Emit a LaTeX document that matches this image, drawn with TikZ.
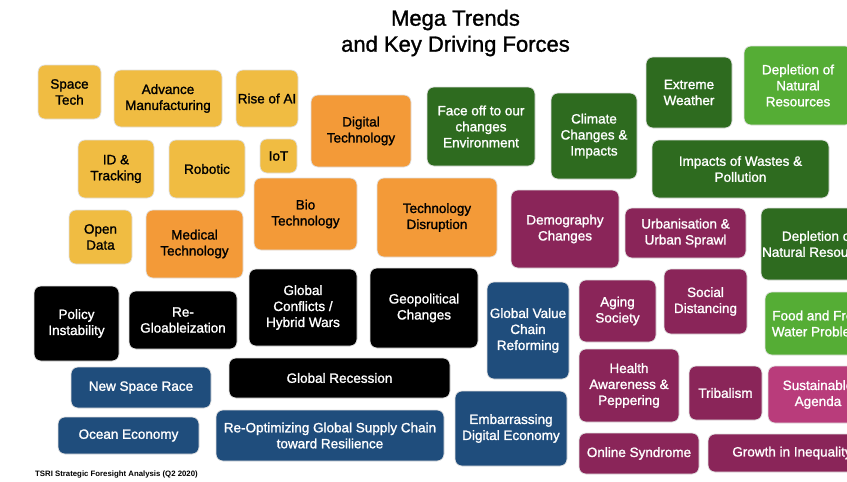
\documentclass[tikz,border=0pt]{standalone}
\usepackage{fontspec}
\setmainfont{Liberation Sans}
\newfontfamily\bx[FakeBold=1.3]{Liberation Sans}
\definecolor{yel}{HTML}{F0BC42}
\definecolor{ora}{HTML}{F39A38}
\definecolor{dgr}{HTML}{2E6B1F}
\definecolor{lgr}{HTML}{55AD35}
\definecolor{pur}{HTML}{8A2559}
\definecolor{pnk}{HTML}{B93C7B}
\definecolor{blu}{HTML}{1F4D7C}
\tikzset{
  tb/.style={rounded corners=7pt, inner sep=0pt, align=center, draw=black!12, line width=0.7pt, font=\bx\fontsize{13.5}{16}\selectfont},
  cy/.style={tb, fill=yel, text=black},
  co/.style={tb, fill=ora, text=black},
  cd/.style={tb, fill=dgr, text=white},
  cl/.style={tb, fill=lgr, text=white},
  cp/.style={tb, fill=pur, text=white},
  ck/.style={tb, fill=pnk, text=white},
  cb/.style={tb, fill=blu, text=white},
  cn/.style={tb, fill=black, text=white},
  sz/.style n args={2}{minimum width=#1pt, minimum height=#2pt}
}
\begin{document}
\begin{tikzpicture}[x=1pt,y=-1pt]
\useasboundingbox (0,0) rectangle (847,482);
\clip (0,0) rectangle (847,482);
\node[font=\bx\fontsize{22}{26}\selectfont, align=center] (title) at (455.5,33) {Mega Trends\\and Key Driving Forces};
% technology
\node[cy, sz={63}{54}] (st) at (69.5,92) {Space\\Tech};
\node[cy, sz={108}{57}] (am) at (168,98.5) {Advance\\Manufacturing};
\node[cy, sz={62}{57}] (ai) at (267,98.5) {Rise of AI};
\node[co, sz={100}{72}] (dt) at (361,131) {Digital\\Technology};
\node[cy, sz={76}{58}] (id) at (116,169) {ID \&\\Tracking};
\node[cy, sz={76}{58}] (rb) at (207,169) {Robotic};
\node[cy, sz={37}{34}] (iot) at (278.5,156) {IoT};
\node[co, sz={103}{72}] (bt) at (305.5,214) {Bio\\Technology};
\node[co, sz={120}{79}] (td) at (437,217.5) {Technology\\Disruption};
\node[cy, sz={63}{54}] (od) at (100.5,237) {Open\\Data};
\node[co, sz={97}{68}] (mt) at (194.5,244) {Medical\\Technology};
% environment
\node[cd, sz={108}{79}] (fo) at (481,126.5) {Face off to our\\changes\\Environment};
\node[cd, sz={86}{86}] (cc) at (594,136) {Climate\\Changes \&\\Impacts};
\node[cd, sz={86}{71}] (ew) at (689,92.5) {Extreme\\Weather};
\node[cl, sz={108}{79}] (dn) at (798,85.5) {Depletion of\\Natural\\Resources};
\node[cd, sz={177}{58}] (iw) at (740.5,169) {Impacts of Wastes \&\\Pollution};
\node[cd, sz={114}{72}] (dn2) at (818,244) {Depletion of\\Natural Resources};
\node[cl, sz={110}{63}] (ff) at (820,323.5) {Food and Fresh\\Water Problems};
% society
\node[cp, sz={108}{78}] (dc) at (565,229) {Demography\\Changes};
\node[cp, sz={121}{50}] (ur) at (685.5,233) {Urbanisation \&\\Urban Sprawl};
\node[cp, sz={77}{62}] (as) at (617.5,311) {Aging\\Society};
\node[cp, sz={83}{65}] (sd) at (705.5,301.5) {Social\\Distancing};
\node[cp, sz={100}{73}] (ha) at (629,385.5) {Health\\Awareness \&\\Peppering};
\node[cp, sz={73}{54}] (tr) at (725.5,393) {Tribalism};
\node[ck, sz={100}{57}] (sa) at (818,394.5) {Sustainable\\Agenda};
\node[cp, sz={120}{41}] (os) at (639,453.5) {Online Syndrome};
\node[cp, sz={168}{38}] (gi) at (792,453) {Growth in Inequality};
% politics
\node[cn, sz={85}{75}] (pi) at (76.5,323.5) {Policy\\Instability};
\node[cn, sz={108}{58}] (rg) at (183,320) {Re-\\Gloableization};
\node[cn, sz={108}{77}] (gc) at (303,307.5) {Global\\Conflicts /\\Hybrid Wars};
\node[cn, sz={108}{80}] (gp) at (424,308) {Geopolitical\\Changes};
\node[cn, sz={221}{40}] (gr) at (339.5,378) {Global Recession};
% economy
\node[cb, sz={140}{41}] (ns) at (141,387.5) {New Space Race};
\node[cb, sz={141}{37}] (oe) at (128.5,435.5) {Ocean Economy};
\node[cb, sz={228}{51}] (ro) at (330,435.5) {Re-Optimizing Global Supply Chain\\toward Resilience};
\node[cb, sz={82}{97}] (gv) at (528,330.5) {Global Value\\Chain\\Reforming};
\node[cb, sz={112}{75}] (ed) at (511,428.5) {Embarrassing\\Digital Economy};
% footer
\node[anchor=west, inner sep=0pt, font=\bfseries\fontsize{7.8}{9}\selectfont] (ft) at (35,474) {TSRI Strategic Foresight Analysis (Q2 2020)};
\end{tikzpicture}
\end{document}
